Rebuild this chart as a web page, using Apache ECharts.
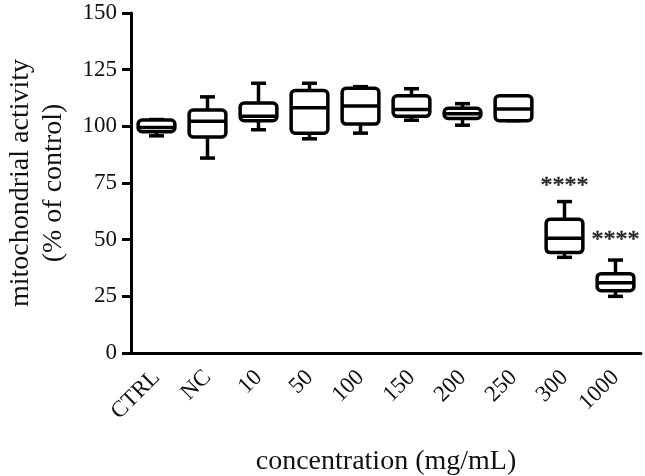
<!DOCTYPE html>
<html>
<head>
<meta charset="utf-8">
<script src="https://cdn.jsdelivr.net/npm/echarts@6/dist/echarts.min.js"></script>
<style>
  html, body { margin: 0; padding: 0; background: #fff; }
  #chart { width: 645px; height: 476px; }
</style>
</head>
<body>
<div id="chart"></div>
<script>
// concentration groups
const categories = ['CTRL', 'NC', '10', '50', '100', '150', '200', '250', '300', '1000'];
// box plot values (% of control)
const mins    = [95.8, 86,  98.5, 94.5, 97,    102.7, 100.5, 102.5, 42.2, 25];
const q1s     = [97.6, 95.3, 102.5, 97,  101,   104.4, 103.5, 102.5, 44.3, 27.5];
const medians = [99.5, 102.2, 104.5, 108.2, 109, 107.4, 105.5, 107.6, 50.6, 31];
const q3s     = [102.8, 107.2, 110.3, 115.8, 116.8, 113.5, 108, 113.5, 59, 35];
const maxs    = [103,  113,  119,  119,  117.5, 116.6, 110,  113.5, 66.8, 41];
// significance marks
const starCats = [8, 9];
const starVals = [74, 50];
const starText = '****';

const yTicks = [0, 25, 50, 75, 100, 125, 150];

const boxData = categories.map((c, i) => [i, mins[i], q1s[i], medians[i], q3s[i], maxs[i]]);

const chart = echarts.init(document.getElementById('chart'));
const font = '"Liberation Serif", "DejaVu Serif", serif';

chart.setOption({
  animation: false,
  grid: { left: 131, right: 4, top: 13, bottom: 123, outerBoundsMode: 'none' },
  xAxis: {
    type: 'category',
    data: categories,
    boundaryGap: true,
    name: 'concentration (mg/mL)',
    nameLocation: 'middle',
    nameGap: 95,
    nameMoveOverlap: false,
    nameTextStyle: { fontFamily: font, fontSize: 28, color: '#111' },
    axisLine: { lineStyle: { color: '#000', width: 3 } },
    axisTick: { alignWithLabel: true, length: 9, lineStyle: { color: '#000', width: 3 } },
    axisLabel: { rotate: 45, margin: 21, fontFamily: font, fontSize: 23, color: '#111' }
  },
  yAxis: {
    type: 'value',
    min: yTicks[0],
    max: yTicks[yTicks.length - 1],
    interval: 25,
    name: 'mitochondrial activity\n(% of control)',
    nameLocation: 'middle',
    nameGap: 61,
    nameMoveOverlap: false,
    nameTextStyle: { fontFamily: font, fontSize: 28, color: '#111', lineHeight: 33 },
    splitLine: { show: false },
    axisLine: { show: true, lineStyle: { color: '#000', width: 3 } },
    axisTick: { show: true, length: 9, lineStyle: { color: '#000', width: 3 } },
    axisLabel: { margin: 14, fontFamily: font, fontSize: 23, color: '#111' }
  },
  series: [
    {
      type: 'custom',
      data: boxData,
      encode: { x: 0, y: [1, 2, 3, 4, 5] },
      renderItem: function (params, api) {
        const x = api.value(0);
        const pMin = api.coord([x, api.value(1)]);
        const pQ1 = api.coord([x, api.value(2)]);
        const pMed = api.coord([x, api.value(3)]);
        const pQ3 = api.coord([x, api.value(4)]);
        const pMax = api.coord([x, api.value(5)]);
        const band = api.size([1, 0])[0];
        const bw = band * 0.72;
        const cw = 15;
        const cx = pMed[0];
        const st = { stroke: '#000', lineWidth: 3.5, fill: null };
        return {
          type: 'group',
          children: [
            { type: 'line', shape: { x1: cx, y1: pMax[1], x2: cx, y2: pQ3[1] }, style: st },
            { type: 'line', shape: { x1: cx, y1: pQ1[1], x2: cx, y2: pMin[1] }, style: st },
            { type: 'line', shape: { x1: cx - cw / 2, y1: pMax[1], x2: cx + cw / 2, y2: pMax[1] }, style: st },
            { type: 'line', shape: { x1: cx - cw / 2, y1: pMin[1], x2: cx + cw / 2, y2: pMin[1] }, style: st },
            {
              type: 'rect',
              shape: { x: cx - bw / 2, y: pQ3[1], width: bw, height: pQ1[1] - pQ3[1], r: 4 },
              style: { stroke: '#000', lineWidth: 3.5, fill: '#fff' }
            },
            { type: 'line', shape: { x1: cx - bw / 2, y1: pMed[1], x2: cx + bw / 2, y2: pMed[1] }, style: st }
          ]
        };
      }
    },
    {
      type: 'scatter',
      symbolSize: 0,
      data: starCats.map((c, i) => [c, starVals[i]]),
      label: {
        show: true,
        position: 'inside',
        formatter: starText,
        fontFamily: font,
        fontSize: 24,
        color: '#000',
        textBorderColor: '#000',
        textBorderWidth: 0.6
      }
    }
  ]
});
</script>
</body>
</html>
